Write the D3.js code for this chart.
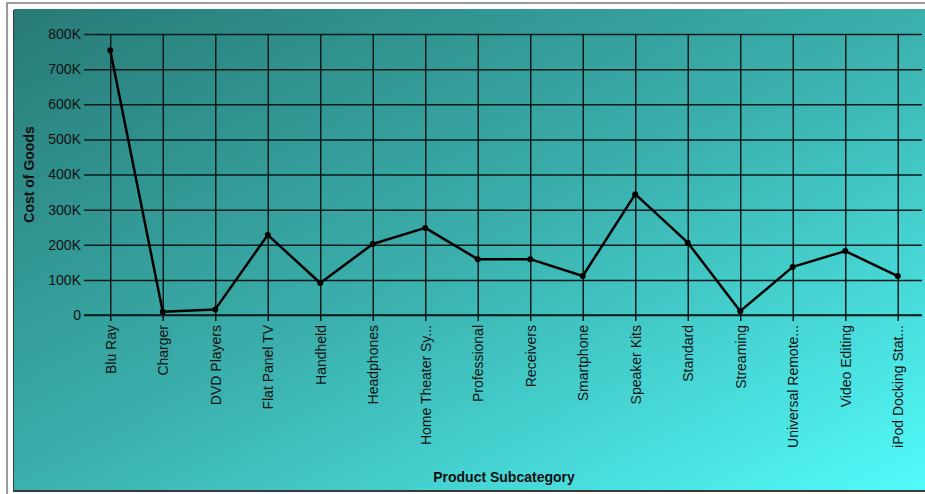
<!DOCTYPE html>
<html><head><meta charset="utf-8">
<script src="https://cdn.jsdelivr.net/npm/d3@7"></script>
<style>
html,body{margin:0;padding:0;background:#fff;overflow:hidden;}
svg{display:block;font-family:"Liberation Sans",Arial,sans-serif;}
</style></head>
<body>
<script>
const categories = ["Blu Ray","Charger","DVD Players","Flat Panel TV","Handheld","Headphones","Home Theater Sy...","Professional","Receivers","Smartphone","Speaker Kits","Standard","Streaming","Universal Remote...","Video Editing","iPod Docking Stat..."];
const costOfGoods = [754000, 9000, 16000, 228000, 91000, 202000, 248000, 159000, 159000, 111000, 344000, 206000, 11000, 137000, 182000, 111000];
const yTicks = [0,100000,200000,300000,400000,500000,600000,700000,800000];
const yTickLabels = ["0","100K","200K","300K","400K","500K","600K","700K","800K"];

const W = 925, H = 494;
const svg = d3.select("body").append("svg").attr("width", W).attr("height", H);

const defs = svg.append("defs");
const g = defs.append("linearGradient").attr("id","bg").attr("x1","0").attr("y1","0").attr("x2","1").attr("y2","1");
g.append("stop").attr("offset","0").attr("stop-color","#287a76");
g.append("stop").attr("offset","0.5").attr("stop-color","#3bb0ad");
g.append("stop").attr("offset","1").attr("stop-color","#52fcfc");

// outer frame
svg.append("rect").attr("x",7).attr("y",3).attr("width",W).attr("height",H).attr("fill","#fff").attr("stroke","#9a9a9a").attr("stroke-width",2);
// panel shadow
svg.append("rect").attr("x",13).attr("y",10).attr("width",W).attr("height",482).attr("fill","#3a3a3a");
// panel
svg.append("rect").attr("x",14).attr("y",9).attr("width",W).attr("height",481).attr("fill","url(#bg)");

const x0 = 84, x1 = 924, yTop = 34, yBot = 315;
const x = d3.scalePoint().domain(categories).range([x0, x1]).padding(0.5);
const y = d3.scaleLinear().domain([0, 800000]).range([yBot, yTop]);

// horizontal gridlines
const ya = svg.append("g").attr("transform",`translate(${x0},0)`)
  .call(d3.axisLeft(y).tickValues(yTicks).tickFormat((d,i)=>yTickLabels[i]).tickSize(-(x1-x0-2)).tickPadding(3));
ya.select(".domain").remove();
ya.selectAll(".tick line").attr("stroke","#0a1a1a").attr("stroke-width",1.5);
ya.selectAll(".tick text").attr("fill","#111").style("font-size","14px");

// vertical gridlines
const xa = svg.append("g").attr("transform",`translate(0,${yBot})`)
  .call(d3.axisBottom(x).tickSize(6).tickPadding(4));
xa.select(".domain").remove();
xa.selectAll(".tick line").attr("y1", yTop - yBot).attr("y2", 6).attr("stroke","#0a1a1a").attr("stroke-width",1.5);
xa.selectAll(".tick text").attr("fill","#111").style("font-size","14px")
  .attr("transform","rotate(-90)").attr("text-anchor","end").attr("x",-10).attr("y",0).attr("dy","0.35em");

// baseline
svg.append("line").attr("x1",x0).attr("x2",x1-2).attr("y1",yBot).attr("y2",yBot).attr("stroke","#0a1a1a").attr("stroke-width",1.5);

// line
const line = d3.line().x((d,i)=>x(categories[i])).y(d=>y(d));
svg.append("path").datum(costOfGoods).attr("d",line).attr("fill","none").attr("stroke","#000").attr("stroke-width",2.5).attr("stroke-linejoin","round");
svg.selectAll("circle.pt").data(costOfGoods).enter().append("circle").attr("class","pt")
  .attr("cx",(d,i)=>x(categories[i])).attr("cy",d=>y(d)).attr("r",3).attr("fill","#000");

// axis titles
svg.append("text").attr("transform",`translate(34,${(yTop+yBot)/2}) rotate(-90)`).attr("text-anchor","middle")
  .style("font-size","14px").style("font-weight","bold").attr("fill","#111").text("Cost of Goods");
svg.append("text").attr("x",504).attr("y",482).attr("text-anchor","middle")
  .style("font-size","14px").style("font-weight","bold").attr("fill","#111").text("Product Subcategory");
</script>
</body></html>
